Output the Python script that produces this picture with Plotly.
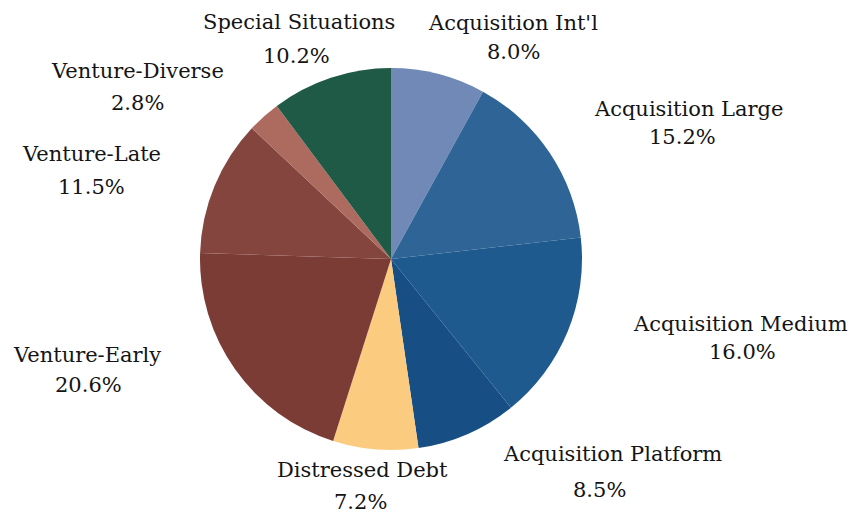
import plotly.graph_objects as go

categories = ["Acquisition Int'l", "Acquisition Large", "Acquisition Medium",
              "Acquisition Platform", "Distressed Debt", "Venture-Early",
              "Venture-Late", "Venture-Diverse", "Special Situations"]
shares = [8.0, 15.2, 16.0, 8.5, 7.2, 20.6, 11.5, 2.8, 10.2]
colors = ["#7089b6", "#2e6596", "#1f5a8e", "#174f84", "#fbcb80",
          "#7c3c36", "#84453e", "#ad6a5f", "#1e5a45"]

W, H = 855, 514
# label placement (pixel centres: name line, percent line)
label_pos = {
    "Acquisition Int'l": ((513, 23), (513, 52)),
    "Acquisition Large": ((688, 109), (682, 137)),
    "Acquisition Medium": ((740, 324), (742, 352)),
    "Acquisition Platform": ((612, 454), (599, 490)),
    "Distressed Debt": ((362, 470), (360, 502)),
    "Venture-Early": ((87, 355), (88, 385)),
    "Venture-Late": ((91, 154), (91, 187)),
    "Venture-Diverse": ((137, 71), (137, 103)),
    "Special Situations": ((299, 22), (296, 56)),
}

cx, cy, d = 391, 259, 382
fig = go.Figure(go.Pie(
    labels=categories, values=shares, sort=False, direction="clockwise",
    rotation=0, marker=dict(colors=colors, line=dict(width=0)),
    textinfo="none", hoverinfo="label+percent",
    domain=dict(x=[(cx - d / 2) / W, (cx + d / 2) / W],
                y=[(H - cy - d / 2) / H, (H - cy + d / 2) / H]),
))

font = dict(family="DejaVu Serif", size=21, color="#141414")
ann = []
for name, val in zip(categories, shares):
    (nx, ny), (px, py) = label_pos[name]
    ann.append(dict(x=nx / W, y=1 - ny / H, xref="paper", yref="paper",
                    text=name, showarrow=False, font=font,
                    xanchor="center", yanchor="middle"))
    ann.append(dict(x=px / W, y=1 - py / H, xref="paper", yref="paper",
                    text=f"{val:.1f}%", showarrow=False, font=font,
                    xanchor="center", yanchor="middle"))

fig.update_layout(width=W, height=H, margin=dict(l=0, r=0, t=0, b=0),
                  paper_bgcolor="white", showlegend=False, annotations=ann)
fig.write_html("out.html")
